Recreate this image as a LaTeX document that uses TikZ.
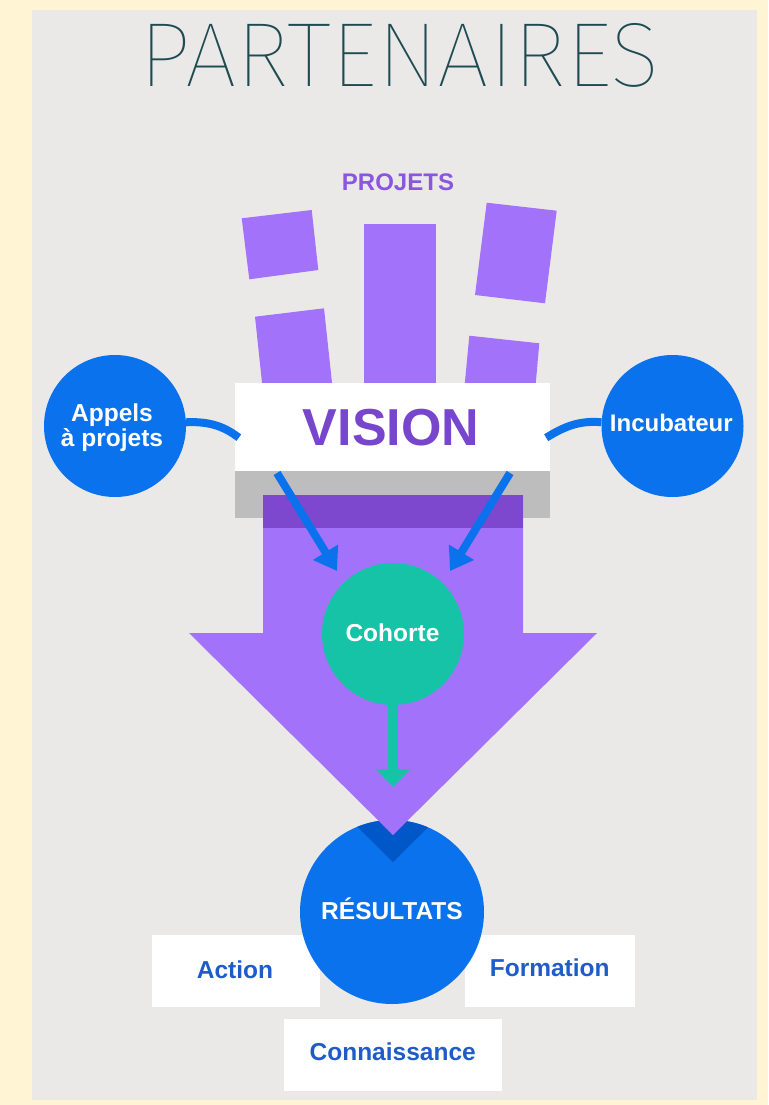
\documentclass[tikz,border=0pt]{standalone}
\usepackage{fontspec}
\usepackage{graphicx}
\setmainfont{Liberation Sans}
\IfFontExistsTF{Fira Sans Thin}{\newfontfamily\titlefont{Fira Sans Thin}}{%
\IfFontExistsTF{Fira Sans ExtraLight}{\newfontfamily\titlefont{Fira Sans ExtraLight}}{%
  \IfFontExistsTF{Fira Sans Light}{\newfontfamily\titlefont{Fira Sans Light}}{\newfontfamily\titlefont{Liberation Sans}}}}
\usetikzlibrary{arrows.meta,calc}
\definecolor{cream}{HTML}{FFF5D5}
\definecolor{panel}{HTML}{EBE9E8}
\definecolor{violet}{HTML}{A272FB}
\definecolor{darkviolet}{HTML}{7E48CE}
\definecolor{visiontext}{HTML}{7846CC}
\definecolor{projtext}{HTML}{8A55E0}
\definecolor{bblue}{HTML}{0A72EC}
\definecolor{shadowblue}{HTML}{0058C8}
\definecolor{teal}{HTML}{16C3A6}
\definecolor{titlecol}{HTML}{1E4B52}
\definecolor{labelblue}{HTML}{1F5CC9}
\definecolor{shadegray}{HTML}{BEBDBD}
\tikzset{
  bubble/.style={circle, fill=bblue, minimum size=142pt, inner sep=0pt},
  whitebox/.style={rectangle, fill=white, inner sep=0pt},
  wtxt/.style={text=white, font=\bfseries\fontsize{24.5}{26}\selectfont, inner sep=0pt, anchor=base},
  btxt/.style={text=labelblue, font=\bfseries\fontsize{24.5}{26}\selectfont, inner sep=0pt, anchor=base},
  conn/.style={draw=bblue, line width=8pt},
  barrow/.style={draw=bblue, line width=8pt, -{Triangle[width=28pt,length=22pt]}},
  tarrow/.style={draw=teal, line width=10pt, -{Triangle[width=34pt,length=18pt]}},
}
\begin{document}
\begin{tikzpicture}[x=1pt,y=-1pt]
% background
\fill[cream] (0,0) rectangle (768,1105);
\fill[panel] (32,10) rectangle (757,1100);
\useasboundingbox (0,0) rectangle (768,1105);
% title
\node[anchor=south, inner sep=0pt, text=titlecol] (title) at (400,88) {\resizebox{520pt}{63pt}{\titlefont PARTENAIRES}};
\node[anchor=base, inner sep=0pt, text=projtext, font=\bfseries\fontsize{24}{26}\selectfont] (projets) at (398,190) {PROJETS};
% project rectangles
\fill[violet] (241.7,218.3) -- (311.7,210) -- (318.3,270) -- (249.3,279.3) -- cycle;
\fill[violet] (255,316.7) -- (324,308.3) -- (333,392) -- (263,392) -- cycle;
\fill[violet] (364,224.3) rectangle (436,392);
\fill[violet] (486.7,202.7) -- (556.7,210.7) -- (545,303.3) -- (475,295) -- cycle;
\fill[violet] (469.3,335.7) -- (539.3,343.3) -- (535,392) -- (464,392) -- cycle;
% side circles
\node[bubble] (app) at (115,426) {};
\node[bubble] (inc) at (672.5,426) {};
\node[text=white, font=\bfseries\fontsize{24.5}{25}\selectfont, align=center, inner sep=0pt] (apptxt) at (112,428) {Appels\\à projets};
\node[wtxt, font=\bfseries\fontsize{24}{26}\selectfont] (inctxt) at (671.3,431.7) {Incubateur};
% shade band and vision box
\node[rectangle, fill=shadegray, minimum width=315pt, minimum height=47.3pt, inner sep=0pt] (shade) at (392.5,494.3) {};
\node[whitebox, minimum width=315pt, minimum height=88pt] (vision) at (392.5,426.7) {};
\draw[conn] (app.3) .. controls (212,421) and (226,428) .. ($(vision.west)+(4,11)$);
\draw[conn] ($(vision.east)+(-4,11)$) .. controls (562,428) and (578,420) .. (inc.177);
\node[anchor=base, inner sep=0pt, text=visiontext, font=\bfseries\fontsize{52}{56}\selectfont] (visiontxt) at (391,445) {VISION};
% bottom boxes and result circle
\node[whitebox, minimum width=168.3pt, minimum height=71.7pt] (action) at (235.8,970.8) {};
\node[whitebox, minimum width=170pt, minimum height=71.7pt] (formation) at (550,970.8) {};
\node[whitebox, minimum width=217.7pt, minimum height=71.4pt] (conn) at (392.8,1055) {};
\node[circle, fill=bblue, minimum size=184pt, inner sep=0pt] (res) at (392,912) {};
\begin{scope}
\clip (392,912) circle[radius=92];
\fill[shadowblue] (189,660) -- (597,660) -- (393,862) -- cycle;
\end{scope}
% big arrow
\fill[violet] (263,495) -- (523,495) -- (523,633) -- (597,633) -- (393,835) -- (189,633) -- (263,633) -- cycle;
\fill[darkviolet] (263,495) rectangle (523,528);
% cohorte
\node[circle, fill=teal, minimum size=142pt, inner sep=0pt] (coh) at (393,634) {};
\node[wtxt] (cohtxt) at (392.5,641.7) {Cohorte};
\coordinate (tt) at (393,787);
\draw[tarrow] (coh.south) -- (tt);
% blue arrows
\coordinate (la1) at (277,473);
\coordinate (la2) at (337,571);
\coordinate (ra1) at (510,473);
\coordinate (ra2) at (450,571);
\draw[barrow] (la1) -- (la2);
\draw[barrow] (ra1) -- (ra2);
% texts
\node[wtxt] (restxt) at (392,919) {RÉSULTATS};
\node[btxt] (actiontxt) at (235,978.3) {Action};
\node[btxt] (formtxt) at (549.7,976.7) {Formation};
\node[btxt] (conntxt) at (392.7,1060.7) {Connaissance};
\end{tikzpicture}
\end{document}
